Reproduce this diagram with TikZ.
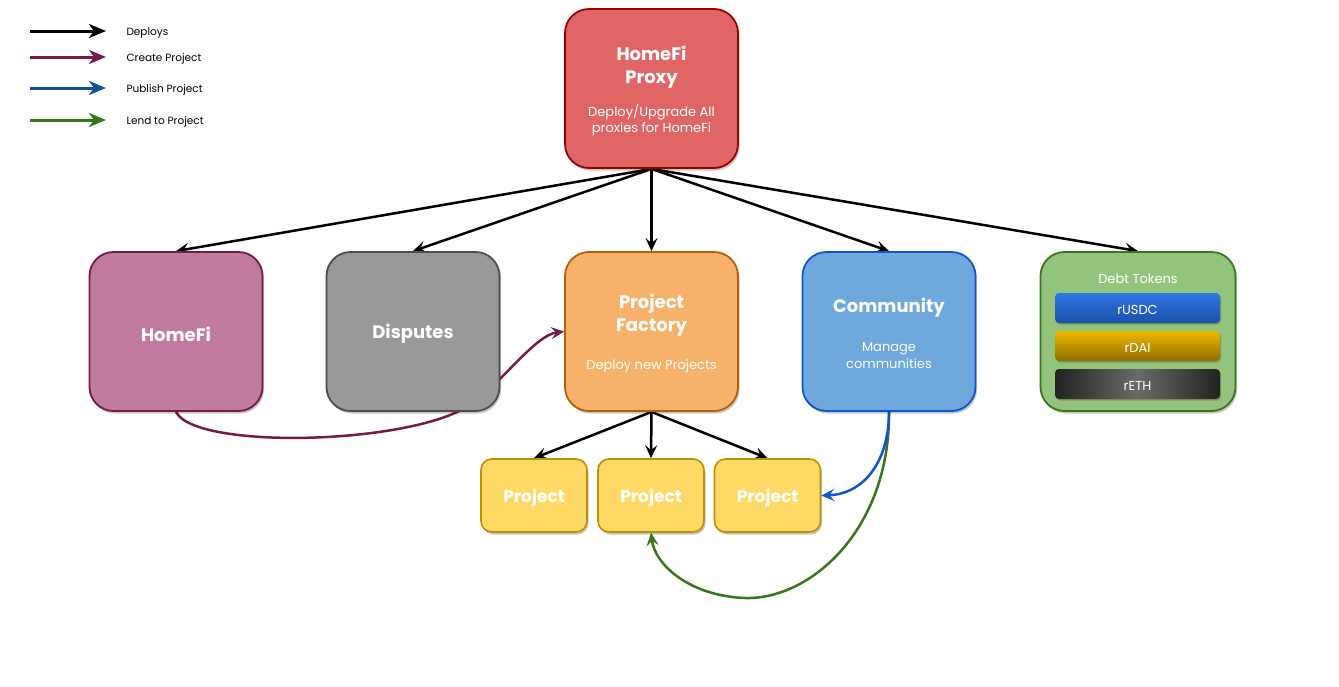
\documentclass[tikz,border=0pt]{standalone}
\usepackage{fontspec}
\setmainfont{Poppins}
\usetikzlibrary{arrows.meta,shadows,backgrounds}
\definecolor{proxyfill}{HTML}{E06666}
\definecolor{proxyline}{HTML}{990000}
\definecolor{homefill}{HTML}{C27BA0}
\definecolor{homeline}{HTML}{741B47}
\definecolor{dispfill}{HTML}{999999}
\definecolor{displine}{HTML}{4D4D4D}
\definecolor{pffill}{HTML}{F6B26B}
\definecolor{pfline}{HTML}{B45F06}
\definecolor{comfill}{HTML}{6FA8DC}
\definecolor{comline}{HTML}{1155CC}
\definecolor{debtfill}{HTML}{93C47D}
\definecolor{debtline}{HTML}{38761D}
\definecolor{projfill}{HTML}{FFD966}
\definecolor{projline}{HTML}{BF9000}
\definecolor{createc}{HTML}{741B47}
\definecolor{publishc}{HTML}{1155CC}
\definecolor{legpub}{HTML}{0B5394}
\definecolor{lendc}{HTML}{38761D}
\definecolor{usdctop}{HTML}{2F76E5}
\definecolor{usdcbot}{HTML}{1C4FA8}
\definecolor{daitop}{HTML}{F2B900}
\definecolor{daibot}{HTML}{8C6D00}
\definecolor{ethedge}{HTML}{222222}
\definecolor{ethmid}{HTML}{6A6A6A}
\begin{document}
\begin{tikzpicture}[x=1pt,y=-1pt,
  shad/.style={drop shadow={shadow xshift=1.5pt,shadow yshift=-2.5pt,opacity=0.22,fill=black}},
  bigbox/.style={draw,line width=1.8pt,rounded corners=24pt,minimum width=173pt,minimum height=159pt,inner sep=0pt,shad},
  projbox/.style={draw=projline,fill=projfill,line width=1.6pt,rounded corners=11pt,minimum width=106pt,minimum height=73pt,inner sep=0pt,shad},
  ptxt/.style={text=white,font=\bfseries\fontsize{17}{20}\selectfont},
  token/.style={rounded corners=4pt,minimum width=165pt,minimum height=30pt,inner sep=0pt,
     drop shadow={shadow xshift=1pt,shadow yshift=-1.5pt,opacity=0.2,fill=black}},
  ttxt/.style={text=white,font=\fontsize{13}{15}\selectfont},
  ttl/.style={text=white,align=center,font=\bfseries\fontsize{18}{23}\selectfont},
  sub/.style={text=white,align=center,font=\fontsize{13}{16.5}\selectfont},
  leg/.style={anchor=west,font=\fontsize{10.5}{12}\selectfont},
  dep/.style={line width=2.5pt,-{Stealth[length=13pt,width=12pt,inset=5pt]}},
  legarr/.style={line width=3pt,-{Stealth[length=17pt,width=14pt,inset=5pt]}},
  curv/.style={line width=2.5pt,-{Stealth[length=13pt,width=12pt,inset=5pt]}}
]
\useasboundingbox (0,0) rectangle (1339,686);

% legend
\coordinate (l1a) at (30,31);  \coordinate (l1b) at (106,31);
\coordinate (l2a) at (30,57);  \coordinate (l2b) at (106,57);
\coordinate (l3a) at (30,88);  \coordinate (l3b) at (106,88);
\coordinate (l4a) at (30,120); \coordinate (l4b) at (106,120);
\draw[legarr,black] (l1a) -- (l1b);
\draw[legarr,createc] (l2a) -- (l2b);
\draw[legarr,legpub] (l3a) -- (l3b);
\draw[legarr,lendc] (l4a) -- (l4b);
\node[leg] (t1) at (123,33) {Deploys};
\node[leg] (t2) at (123,59) {Create Project};
\node[leg] (t3) at (123,90) {Publish Project};
\node[leg] (t4) at (123,122) {Lend to Project};

% main boxes
\node[bigbox,fill=proxyfill,draw=proxyline] (proxy) at (651.5,88.5) {};
\node[ttl] (proxyt) at (651.5,67) {HomeFi\\Proxy};
\node[sub] (proxys) at (651.5,120) {Deploy/Upgrade All\\proxies for HomeFi};

\node[bigbox,fill=homefill,draw=homeline] (homefi) at (176,331.5) {};
\node[ttl] (homefit) at (176,334) {HomeFi};

\node[bigbox,fill=dispfill,draw=displine] (disp) at (413,331.5) {};
\node[ttl] (dispt) at (413,334) {Disputes};

\node[bigbox,fill=pffill,draw=pfline] (pf) at (651.5,331.5) {};
\node[ttl] (pft) at (651.5,315.5) {Project\\Factory};
\node[sub] (pfs) at (651.5,366.5) {Deploy new Projects};

\node[bigbox,fill=comfill,draw=comline] (com) at (889,331.5) {};
\node[ttl] (comt) at (889,307.5) {Community};
\node[sub] (coms) at (889,355.5) {Manage\\communities};

\node[bigbox,fill=debtfill,draw=debtline,minimum width=195pt] (debt) at (1138,331.5) {};
\node[sub] (debtt) at (1138,278.5) {Debt Tokens};
\node[token,top color=usdctop,bottom color=usdcbot] (usdc) at (1137.5,308) {};
\node[ttxt] (usdct) at (1137.5,309.5) {rUSDC};
\node[token,top color=daitop,bottom color=daibot] (dai) at (1137.5,346) {};
\node[ttxt] (dait) at (1137.5,347.5) {rDAI};
\node[token,left color=ethedge,right color=ethedge,middle color=ethmid] (eth) at (1137.5,384) {};
\node[ttxt] (etht) at (1137.5,385.5) {rETH};

% projects
\node[projbox] (p1) at (534,495.5) {};
\node[ptxt] (p1t) at (534,497.5) {Project};
\node[projbox] (p2) at (651,495.5) {};
\node[ptxt] (p2t) at (651,497.5) {Project};
\node[projbox] (p3) at (767.5,495.5) {};
\node[ptxt] (p3t) at (767.5,497.5) {Project};

% connectors
\begin{scope}[on background layer]
\draw[dep] (proxy.south) -- (homefi.north);
\draw[dep] (proxy.south) -- (disp.north);
\draw[dep] (proxy.south) -- (pf.north);
\draw[dep] (proxy.south) -- (com.north);
\draw[dep] (proxy.south) -- (debt.north);
\draw[dep] (pf.south) -- (p1.north);
\draw[dep] (pf.south) -- (p2.north);
\draw[dep] (pf.south) -- (p3.north);
\draw[curv,createc] (homefi.south) .. controls (195,450) and (410,445) .. (470,405)
   .. controls (500,385) and (535,335) .. (pf.west);
\draw[curv,lendc] (com.south) .. controls (890,530) and (810,600) .. (745,598)
   .. controls (690,596) and (655,565) .. (p2.south);
\draw[curv,publishc] (com.south) .. controls (889,460) and (865,494) .. (p3.east);
\end{scope}
\end{tikzpicture}
\end{document}
